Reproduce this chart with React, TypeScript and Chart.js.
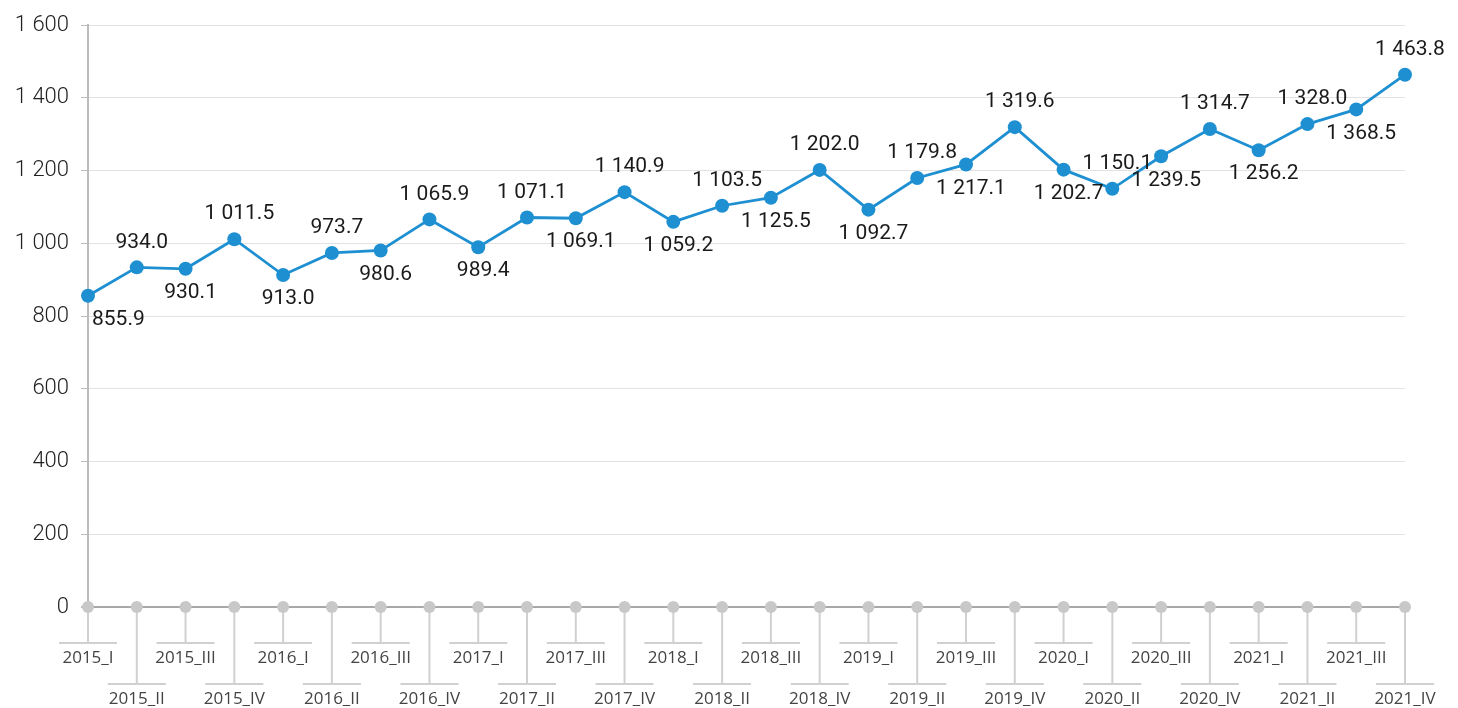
import React, { useEffect, useRef } from "react";
import { Chart, registerables } from "chart.js";

Chart.register(...registerables);

const categories = [
  "2015_I", "2015_II", "2015_III", "2015_IV",
  "2016_I", "2016_II", "2016_III", "2016_IV",
  "2017_I", "2017_II", "2017_III", "2017_IV",
  "2018_I", "2018_II", "2018_III", "2018_IV",
  "2019_I", "2019_II", "2019_III", "2019_IV",
  "2020_I", "2020_II", "2020_III", "2020_IV",
  "2021_I", "2021_II", "2021_III", "2021_IV",
];

const values = [
  855.9, 934.0, 930.1, 1011.5,
  913.0, 973.7, 980.6, 1065.9,
  989.4, 1071.1, 1069.1, 1140.9,
  1059.2, 1103.5, 1125.5, 1202.0,
  1092.7, 1179.8, 1217.1, 1319.6,
  1202.7, 1150.1, 1239.5, 1314.7,
  1256.2, 1328.0, 1368.5, 1463.8,
];

const yTicks = [0, 200, 400, 600, 800, 1000, 1200, 1400, 1600];

const LINE_COLOR = "#1e90d2";

function fmtThousands(n: number, decimals: number): string {
  const s = n.toFixed(decimals);
  const [intPart, dec] = s.split(".");
  const withSpace = intPart.replace(/\B(?=(\d{3})+(?!\d))/g, " ");
  return dec !== undefined ? withSpace + "." + dec : withSpace;
}

const customXAxis = {
  id: "customXAxis",
  beforeDatasetsDraw(chart: any) {
    const ctx = chart.ctx;
    const xScale = chart.scales.x;
    const yScale = chart.scales.y;
    const y0 = yScale.getPixelForValue(0);
    ctx.save();
    categories.forEach((label, i) => {
      const x = xScale.getPixelForValue(i);
      const low = i % 2 === 1;
      const lineEnd = low ? y0 + 77 : y0 + 36;
      ctx.strokeStyle = "#d0d0d0";
      ctx.lineWidth = 2;
      ctx.beginPath();
      ctx.moveTo(x, y0);
      ctx.lineTo(x, lineEnd);
      ctx.stroke();
      ctx.beginPath();
      ctx.moveTo(x - 29, lineEnd);
      ctx.lineTo(x + 29, lineEnd);
      ctx.stroke();
      ctx.fillStyle = "#444";
      ctx.font = "17px 'Open Sans'";
      ctx.textAlign = "center";
      ctx.textBaseline = "alphabetic";
      ctx.fillText(label, x, lineEnd + 20);
    });
    categories.forEach((_, i) => {
      const x = xScale.getPixelForValue(i);
      ctx.fillStyle = "#c8c8c8";
      ctx.beginPath();
      ctx.arc(x, y0, 6, 0, Math.PI * 2);
      ctx.fill();
    });
    ctx.restore();
  },
};

const dataLabels = {
  id: "dataLabels",
  afterDatasetsDraw(chart: any) {
    const ctx = chart.ctx;
    const meta = chart.getDatasetMeta(0);
    ctx.save();
    ctx.font = "21px Roboto";
    ctx.fillStyle = "#1a1a1a";
    ctx.textBaseline = "middle";
    meta.data.forEach((pt: any, i: number) => {
      const above = i % 2 === 1;
      const text = fmtThousands(values[i], 1);
      const y = above ? pt.y - 25 : pt.y + 24;
      if (i === 0) {
        ctx.textAlign = "left";
        ctx.fillText(text, pt.x + 4, y);
      } else {
        ctx.textAlign = "center";
        ctx.fillText(text, pt.x + 5, y);
      }
    });
    ctx.restore();
  },
};

export default function App() {
  const canvasRef = useRef<HTMLCanvasElement | null>(null);

  useEffect(() => {
    document.body.style.margin = "0";
    const canvas = canvasRef.current;
    if (!canvas) return;
    const chart = new Chart(canvas, {
      type: "line",
      data: {
        labels: categories,
        datasets: [
          {
            data: values,
            borderColor: LINE_COLOR,
            backgroundColor: LINE_COLOR,
            borderWidth: 2.8,
            pointRadius: 7,
            pointBackgroundColor: LINE_COLOR,
            pointBorderWidth: 0,
            tension: 0,
            clip: false as any,
          },
        ],
      },
      options: {
        responsive: false,
        animation: false,
        devicePixelRatio: 1,
        layout: { padding: { left: 0, right: 53, top: 24, bottom: 101 } },
        plugins: {
          legend: { display: false },
          tooltip: { enabled: false },
        },
        scales: {
          x: {
            type: "category",
            display: false,
            offset: false,
          },
          y: {
            min: 0,
            max: 1600,
            afterFit: (s: any) => {
              s.width = 88;
            },
            afterBuildTicks: (s: any) => {
              s.ticks = yTicks.map((v) => ({ value: v }));
            },
            ticks: {
              padding: 12,
              color: "#222",
              font: { family: "Roboto", size: 22, weight: "300" as any },
              callback: (v: any) => fmtThousands(Number(v), 0),
            },
            grid: {
              color: (c: any) => (c.tick && c.tick.value === 0 ? "#a8a8a8" : "#e2e2e2"),
              lineWidth: (c: any) => (c.tick && c.tick.value === 0 ? 2 : 1),
              tickColor: "#bbbbbb",
              tickLength: 7,
            },
            border: { color: "#bbbbbb", width: 2 },
          },
        },
      },
      plugins: [customXAxis, dataLabels],
    });
    return () => chart.destroy();
  }, []);

  return (
    <div style={{ width: 1458, height: 708 }}>
      <canvas ref={canvasRef} width={1458} height={708} style={{ display: "block" }} />
    </div>
  );
}
